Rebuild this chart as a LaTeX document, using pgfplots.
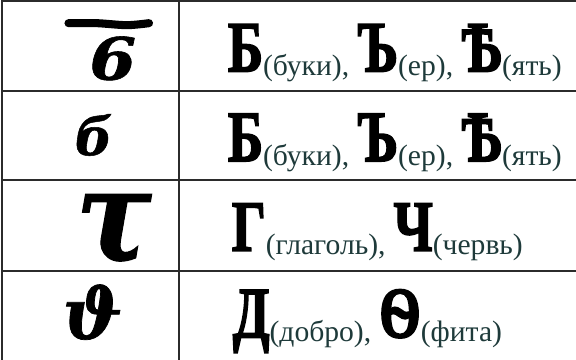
\documentclass[border=0pt]{standalone}
\usepackage{fontspec}
\setmainfont{Liberation Serif}
\newfontfamily\csfont{Liberation Serif}[FakeBold=2.5]
\newfontfamily\hand{DejaVu Serif}[FakeBold=1]
\usepackage{graphicx}
\usepackage{pgfplots}
\pgfplotsset{compat=1.18}
\definecolor{rule}{HTML}{2B2B2B}
\definecolor{lbl}{HTML}{1E3A3A}

% big Church Slavonic style letter, then a small label in brackets, set a bit low
\newcommand{\cs}[1]{\scalebox{0.74}[1]{\fontsize{72}{72}\selectfont\csfont\bfseries #1}}
\newcommand{\lbl}[1]{\raisebox{-4bp}{\fontsize{29.5}{29.5}\selectfont\color{lbl}#1}}
\newcommand{\gap}{\hspace{8bp}}
\newcommand{\hw}[2]{{\fontsize{#1}{#1}\selectfont\hand\bfseries\itshape #2}}

\begin{document}
\begin{tikzpicture}
\begin{axis}[
  width=576bp, height=361bp, scale only axis,
  xmin=0, xmax=576, ymin=0, ymax=361,
  y dir=reverse,
  hide axis,
  clip=true]
  % table rules
  \addplot[rule, line width=2bp] coordinates {(5,5) (580,5)};
  \addplot[rule, line width=2bp] coordinates {(6,5) (6,365)};
  \addplot[rule, line width=2bp] coordinates {(181.5,5) (181.5,365)};
  \addplot[rule, line width=2bp] coordinates {(6,94) (580,94)};
  \addplot[rule, line width=2bp] coordinates {(6,183) (580,183)};
  \addplot[rule, line width=2bp] coordinates {(6,273) (580,273)};

  % handwritten forms
  \addplot[black, line width=8bp, line cap=round, smooth] coordinates {(72,27) (100,27) (130,29) (152,27)};
  \node at (axis cs:116,62) {\scalebox{1.15}[1]{\hw{58}{6}}};
  \node[inner sep=0pt] at (axis cs:97,138) {\hw{52}{б}};
  \node at (axis cs:117,232) {\scalebox{1.6}[1.8]{\hw{70}{τ}}};
  \node[inner sep=0pt] at (axis cs:96,314) {\hw{70}{ϑ}};

  % letters with their names
  \node[anchor=base west, inner sep=0pt] at (axis cs:230,75)
    {\cs{Б}\lbl{(буки),}\gap\cs{Ъ}\lbl{(ер),}\gap\cs{Ѣ}\lbl{(ять)}};
  \node[anchor=base west, inner sep=0pt] at (axis cs:230,164)
    {\cs{Б}\lbl{(буки),}\gap\cs{Ъ}\lbl{(ер),}\gap\cs{Ѣ}\lbl{(ять)}};
  \node[anchor=base west, inner sep=0pt] at (axis cs:234,253)
    {\cs{Г}\lbl{(глаголь),}\gap\cs{Ч}\lbl{(червь)}};
  \node[anchor=base west, inner sep=0pt] at (axis cs:235,339)
    {\cs{Д}\lbl{(добро),}\gap\cs{Ѳ}\lbl{(фита)}};
\end{axis}
\end{tikzpicture}
\end{document}
